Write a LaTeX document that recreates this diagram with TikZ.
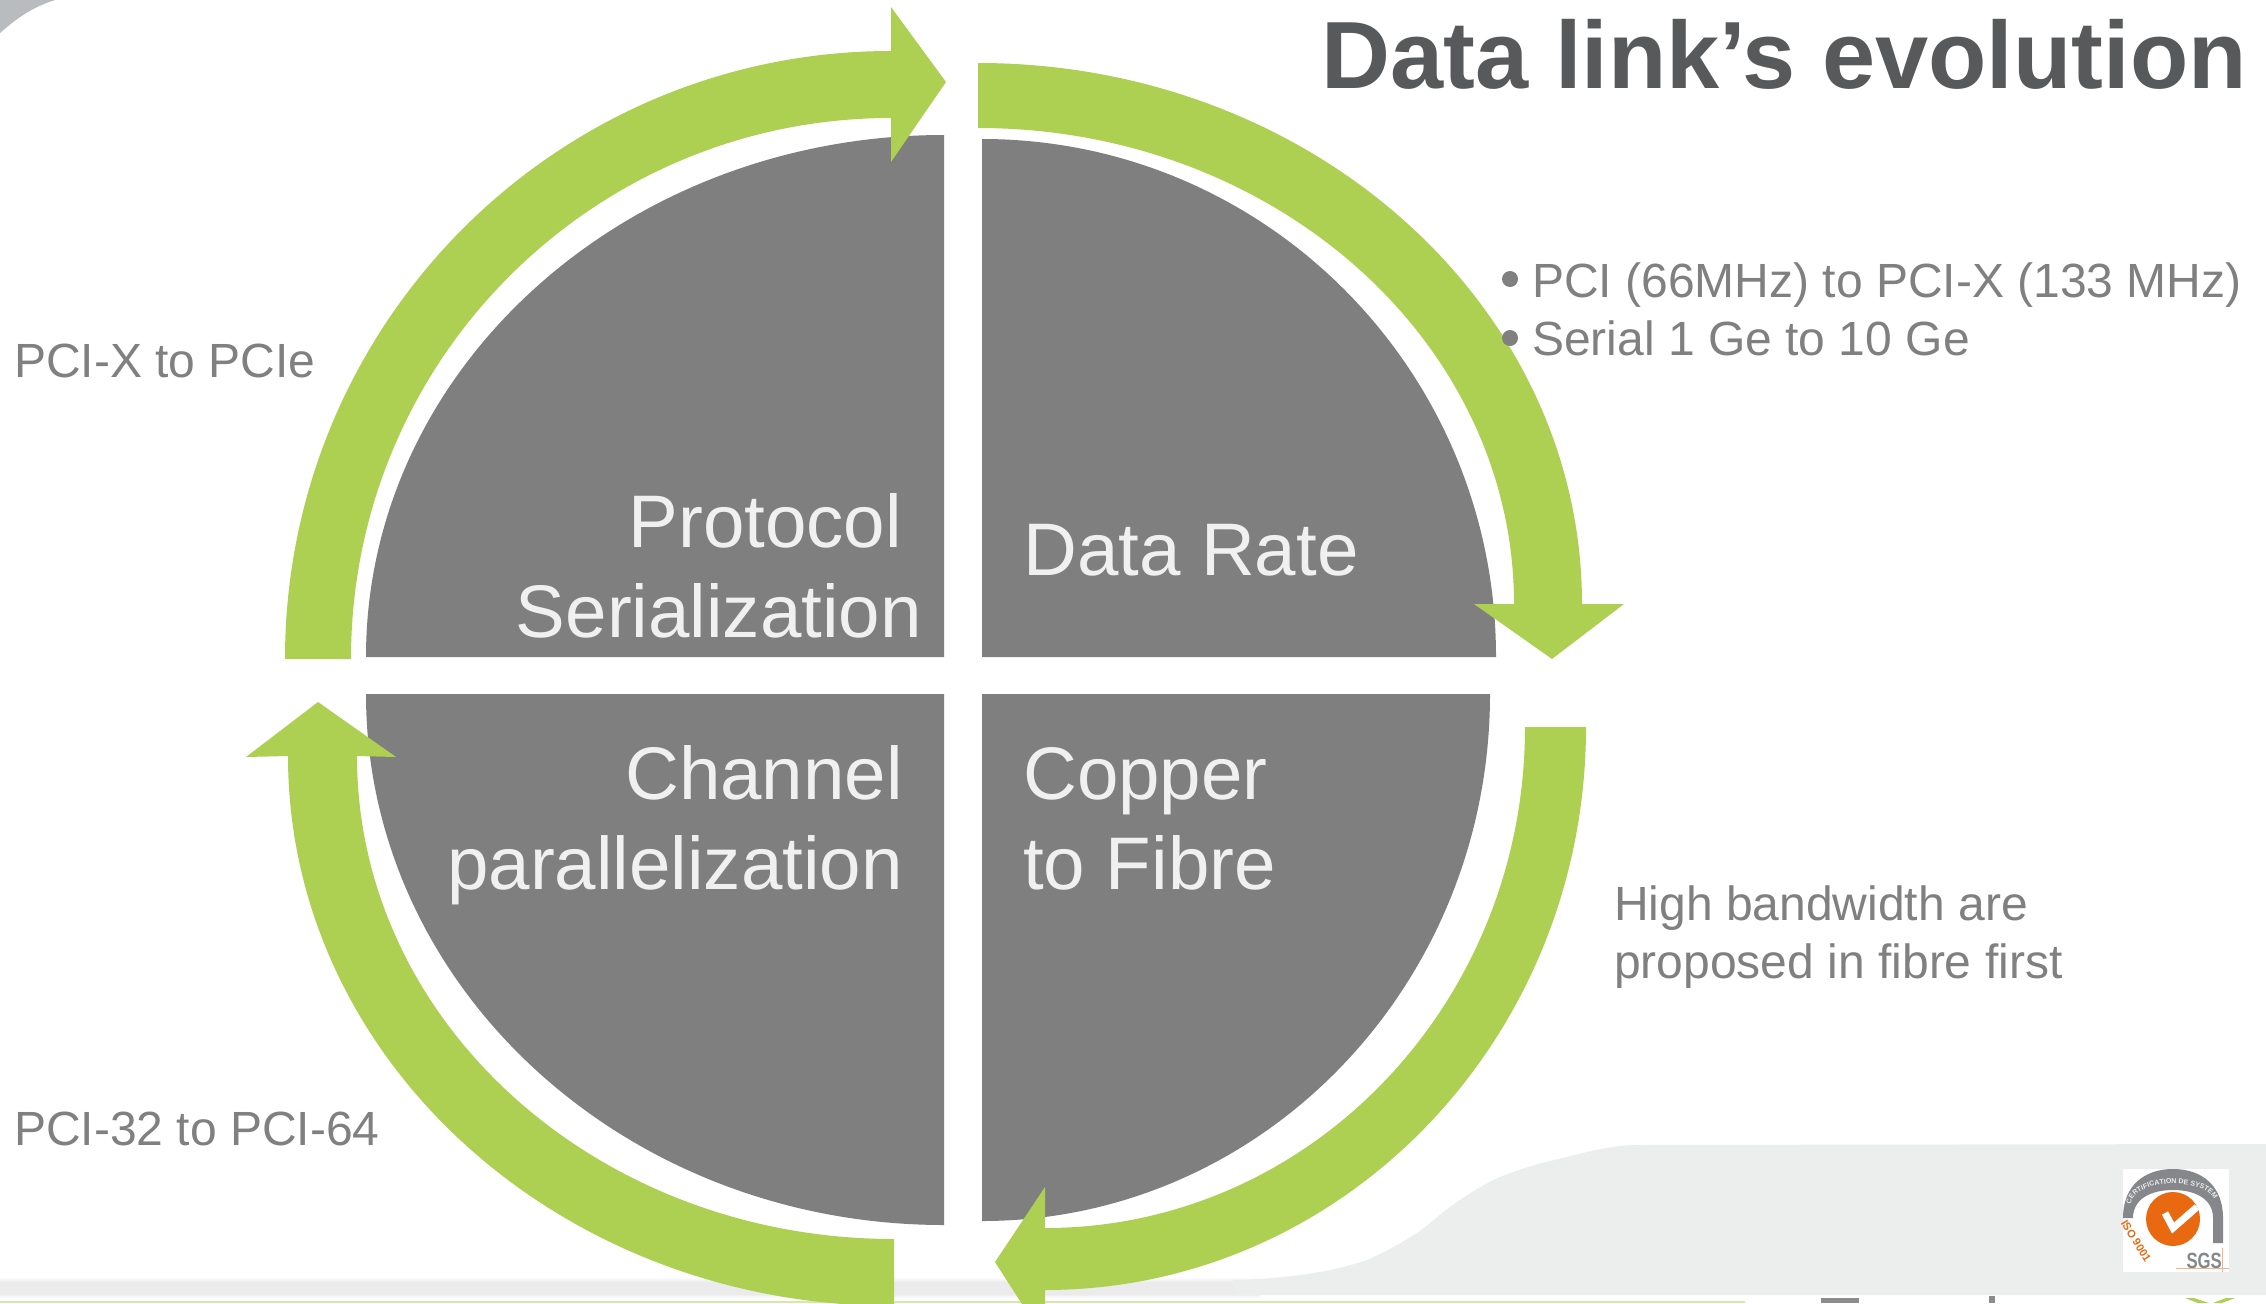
\documentclass[tikz,border=0pt]{standalone}
\usepackage{fontspec}
\setmainfont{Liberation Sans}
\usetikzlibrary{decorations.text,calc}
\definecolor{leaf}{HTML}{ADD053}
\definecolor{pie}{HTML}{7F7F7F}
\definecolor{sidetext}{HTML}{808080}
\definecolor{titletext}{HTML}{58595B}
\definecolor{band}{HTML}{ECEDED}
\definecolor{strip}{HTML}{EBEBEB}
\definecolor{corner}{HTML}{B8BCBE}
\definecolor{orangeck}{HTML}{E8690F}
\definecolor{archgray}{HTML}{85878A}
\tikzset{
  quadrant/.style={fill=pie,draw=none},
  sweep/.style={fill=leaf,draw=none},
  pielabel/.style={text=white!94!black,font=\fontsize{74.5}{90}\selectfont,inner sep=0pt},
  sidelabel/.style={text=sidetext,font=\fontsize{48}{58}\selectfont,inner sep=0pt,align=left},
}
\begin{document}
\begin{tikzpicture}[x=1pt,y=-1pt]
\useasboundingbox (0,0) rectangle (2266,1303);
\fill[white] (0,0) rectangle (2266,1303);
% background
\fill[corner] (0,0) -- (0,33) .. controls (15,20) and (30,8) .. (55,0) -- cycle;
\shade[top color=white,bottom color=strip] (0,1277) rectangle (1260,1282);
\fill[strip] (0,1282) rectangle (1260,1294);
\shade[top color=strip,bottom color=white] (0,1294) rectangle (1260,1298);
\fill[band] (1233,1295) -- (1233,1280) .. controls (1280,1279) and (1330,1273) .. (1367,1260) .. controls (1385,1252) and (1400,1244) .. (1417,1233) .. controls (1430,1224) and (1440,1214) .. (1450,1207) .. controls (1465,1196) and (1482,1185) .. (1500,1177) .. controls (1522,1168) and (1545,1162) .. (1567,1157) .. controls (1590,1151) and (1610,1146) .. (1633,1145) -- (2266,1144) -- (2266,1295) -- cycle;
\fill[leaf!50] (0,1301) rectangle (1745,1303);
% quadrants
\fill[quadrant] (944,657) -- (944,135) arc[start angle=90,end angle=180,x radius=578,y radius=-522] -- cycle;
\fill[quadrant] (982,657) -- (982,139) arc[start angle=90,end angle=0,x radius=514,y radius=-518] -- cycle;
\fill[quadrant] (944,694) -- (944,1225) arc[start angle=-90,end angle=-180,x radius=578,y radius=-531] -- cycle;
\fill[quadrant] (982,694) -- (982,1221) arc[start angle=-90,end angle=0,x radius=508,y radius=-527] -- cycle;
% arrows
\fill[sweep] (285,659) arc[start angle=180,end angle=90,x radius=606,y radius=-608]
  -- (891,7) -- (946,82) -- (891,162) -- (891,118)
  arc[start angle=90,end angle=180,x radius=540,y radius=-541] -- cycle;
\fill[sweep] (978,63) arc[start angle=90,end angle=0,x radius=604,y radius=-541]
  -- (1624,604) -- (1552,659) -- (1474,604) -- (1514,604)
  arc[start angle=0,end angle=90,x radius=536,y radius=-476] -- cycle;
\fill[sweep] (1586,727) arc[start angle=0,end angle=-90,x radius=541,y radius=-563]
  -- (1045,1340) -- (995,1262) -- (1045,1187) -- (1045,1228)
  arc[start angle=-90,end angle=0,x radius=480,y radius=-501] -- cycle;
\fill[sweep] (894,1306) arc[start angle=-90,end angle=-180,x radius=606,y radius=-550]
  -- (246,757) -- (318,702) -- (396,757) -- (357,756)
  arc[start angle=-180,end angle=-90,x radius=537,y radius=-483] -- cycle;
% pie labels
\node[pielabel,anchor=base east] (p1) at (902,547) {Protocol};
\node[pielabel,anchor=base east] (p2) at (922,637) {Serialization};
\node[pielabel,anchor=base west] (dr) at (1023,575) {Data Rate};
\node[pielabel,anchor=base east] (c1) at (903,799) {Channel};
\node[pielabel,anchor=base east] (c2) at (903,889) {parallelization};
\node[pielabel,anchor=base west] (f1) at (1023,799) {Copper};
\node[pielabel,anchor=base west] (f2) at (1023,889) {to Fibre};
% side labels
\node[sidelabel,anchor=base west] (s1) at (14,377) {PCI-X to PCIe};
\node[sidelabel,anchor=base west] (s2) at (14,1145) {PCI-32 to PCI-64};
\node[sidelabel,anchor=base west] (s3) at (1532,297) {PCI (66MHz) to PCI-X (133 MHz)};
\node[sidelabel,anchor=base west] (s4) at (1532,355) {Serial 1 Ge to 10 Ge};
\fill[sidetext] (1510,279) circle (8);
\fill[sidetext] (1510,338) circle (8);
\node[sidelabel,anchor=base west] (s5) at (1614,920.5) {High bandwidth are};
\node[sidelabel,anchor=base west] (s6) at (1614,978.5) {proposed in fibre first};
% title
\node[text=titletext,font=\fontsize{95.5}{100}\selectfont\bfseries,inner sep=0pt,anchor=base east] (title) at (2247,89) {Data link’s evolution};
% logo
\fill[white] (2123,1169) rectangle (2229,1272);
\fill[archgray] (2123,1218) .. controls (2123,1185) and (2145,1169) .. (2173,1169) .. controls (2201,1169) and (2223,1185) .. (2223,1218) -- (2223,1243) -- (2213,1243) -- (2213,1218) .. controls (2213,1200) and (2197,1190) .. (2173,1190) .. controls (2149,1190) and (2133,1200) .. (2133,1218) -- cycle;
\path[decorate,decoration={text along path,text align=center,text={|\fontsize{7}{8}\selectfont\bfseries\color{white!85!gray}|CERTIFICATION DE SYSTEME}}] (2133,1198) .. controls (2145,1179) and (2201,1179) .. (2213,1198);
\fill[orangeck] (2173,1219) circle (27);
\draw[white,line width=7] (2165,1213) -- (2173,1228) -- (2197,1207);
\node[text=orangeck,rotate=-58,inner sep=0pt,font=\fontsize{11}{12}\selectfont\bfseries] (iso) at (2136,1241) {ISO 9001};
\node[text=archgray,inner sep=0pt,font=\fontsize{22}{22}\selectfont\bfseries,anchor=base east,xscale=.76] (sgs) at (2222,1268) {SGS};
\draw[orangeck!50,line width=1] (2176,1268) -- (2229,1268);
\draw[orangeck!50,line width=1] (2222,1248) -- (2222,1272);
% bottom fragments
\fill[gray!90] (1821,1298) rectangle (1859,1303);
\fill[gray!90] (1989,1296) rectangle (1995,1303);
\fill[leaf] (2185,1298) -- (2194,1298) -- (2209,1303) -- (2198,1303) -- cycle;
\fill[leaf] (2235,1298) -- (2226,1298) -- (2213,1303) -- (2222,1303) -- cycle;
\end{tikzpicture}
\end{document}
